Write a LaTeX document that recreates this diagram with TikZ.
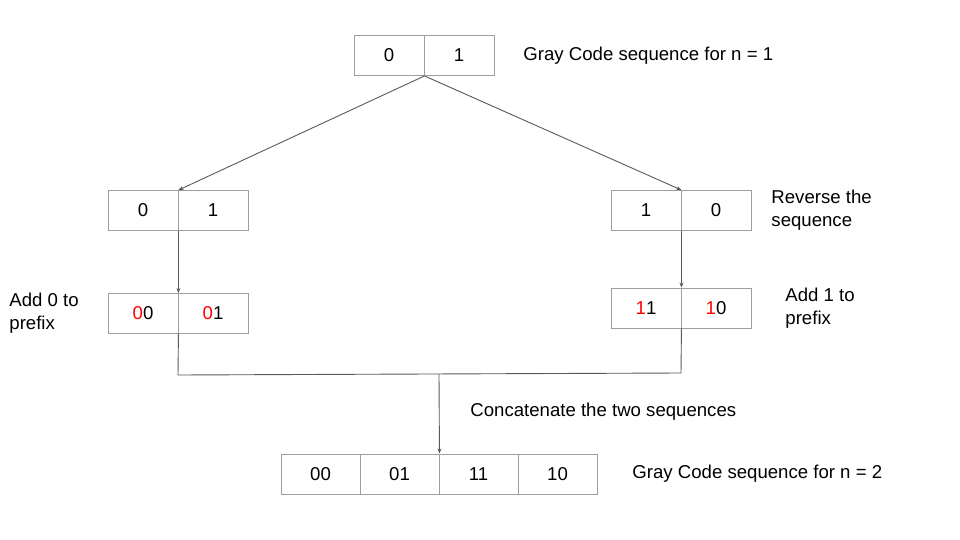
\documentclass[tikz,border=0pt]{standalone}
\usepackage{fontspec}
\setmainfont{Liberation Sans}
\usetikzlibrary{arrows.meta}
\definecolor{boxgray}{HTML}{9E9E9E}
\definecolor{linegray}{HTML}{595959}

\begin{document}
\begin{tikzpicture}[x=1pt, y=-1pt, every path/.style={line width=0.9pt},
	every node/.style={font=\fontsize{18.6}{23}\selectfont, inner sep=0pt},
	cell/.style={draw=boxgray, minimum width=70pt, minimum height=40pt},
	widecell/.style={cell, minimum width=79pt},
	note/.style={anchor=west, align=left},
	link/.style={draw=linegray, -{Stealth[length=5pt,width=4pt]}}]
	\useasboundingbox (0,0) rectangle (960,540);
	% n = 1
	\node[cell] (t0) at (389, 55.5) {0};
	\node[cell] (t1) at (459, 55.5) {1};
	\node[note] (tn) at (523, 55.5) {Gray Code sequence for n = 1};
	
	% copy and reversed copy
	\node[cell] (l0) at (143, 210.5) {0};
	\node[cell] (l1) at (213, 210.5) {1};
	\node[cell] (r0) at (646, 210.5) {1};
	\node[cell] (r1) at (716, 210.5) {0};
	\node[note] (rn) at (771, 210.5) {Reverse the\\sequence};
	
	% prefixed
	\node[cell] (la0) at (143, 313.5) {{\color{red}0}0};
	\node[cell] (la1) at (213, 313.5) {{\color{red}0}1};
	\node[note] (lan) at (9, 313.5) {Add 0 to\\prefix};
	\node[cell] (ra0) at (646, 308) {{\color{red}1}1};
	\node[cell] (ra1) at (716, 308) {{\color{red}1}0};
	\node[note] (ran) at (785, 308.5) {Add 1 to\\prefix};
	
	% n = 2
	\node[widecell] (b0) at (320.5, 474) {00};
	\node[widecell] (b1) at (399.5, 474) {01};
	\node[widecell] (b2) at (478.5, 474) {11};
	\node[widecell] (b3) at (557.5, 474) {10};
	\node[note] (bn) at (632, 474) {Gray Code sequence for n = 2};
	\node[note] (cn) at (470, 412) {Concatenate the two sequences};
	
	\coordinate (jl) at (178, 375);
	\coordinate (jr) at (681, 373);
	\coordinate (jm) at (439, 374);
	
	\draw[link] (t0.south east) -- (l0.north east);
	\draw[link] (t0.south east) -- (r0.north east);
	\draw[link] (l0.south east) -- (la0.north east);
	\draw[link] (r0.south east) -- (ra0.north east);
	\draw[draw=linegray] (la0.south east) -- (jl) -- (jr) -- (ra0.south east);
	\draw[link] (jm) -- (b1.north east);
\end{tikzpicture}
\end{document}
